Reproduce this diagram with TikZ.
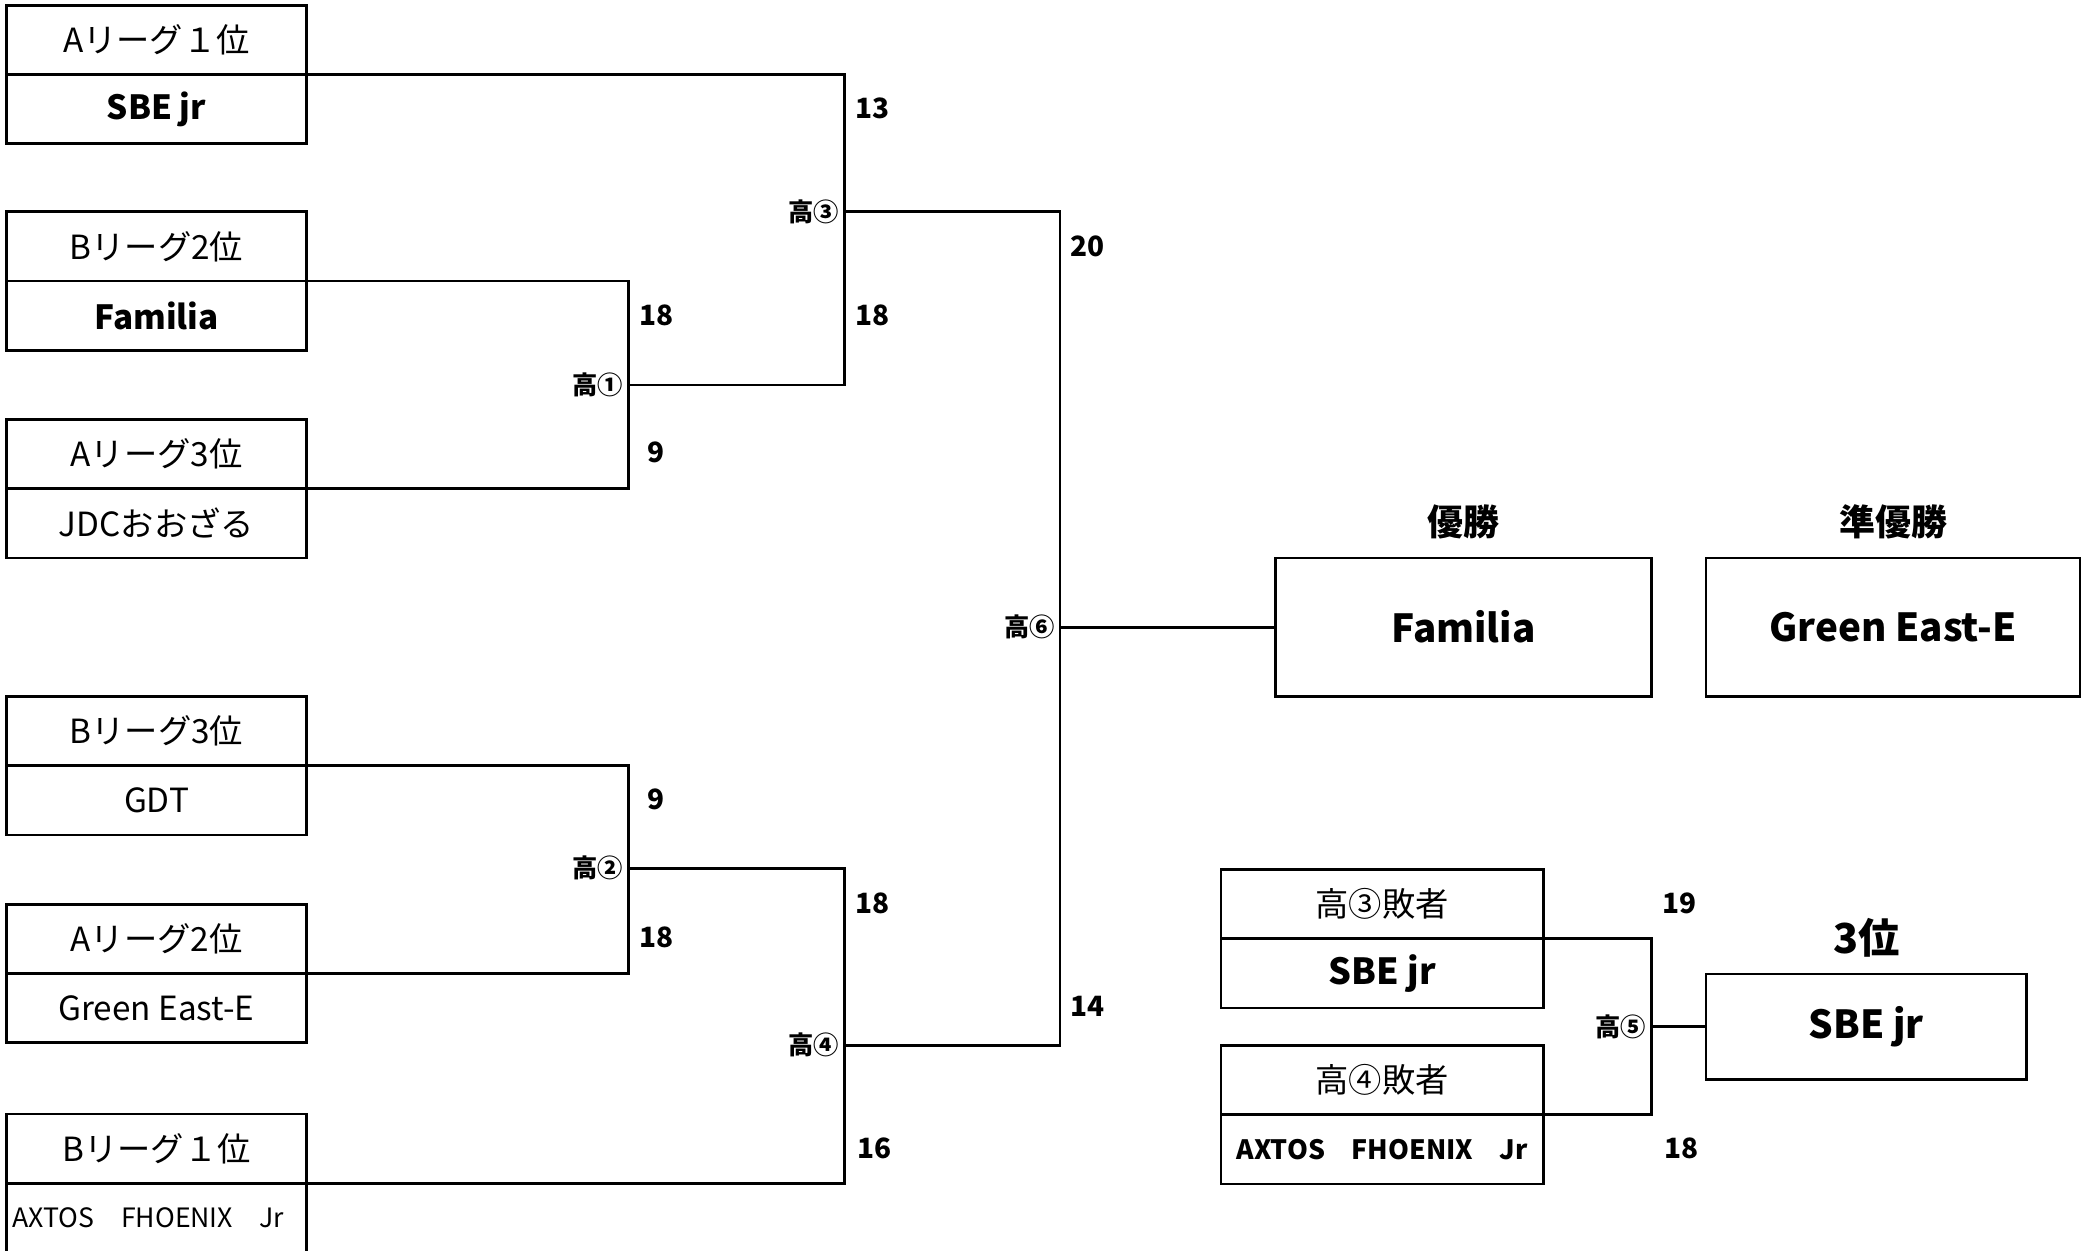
\documentclass[tikz,border=0pt]{standalone}
\usepackage{fontspec}
\setmainfont{Noto Sans CJK JP}
\begin{document}
\begin{tikzpicture}[x=0.5pt,y=-0.5pt,line width=1pt,
  cell/.style={draw,inner sep=0pt,outer sep=0pt,minimum width=112.5pt,minimum height=26pt,font=\fontsize{12.5pt}{15pt}\selectfont},
  rcell/.style={cell,minimum width=121pt},
  team/.style={font=\fontsize{12.5pt}{15pt}\selectfont\bfseries},
  rteam/.style={font=\fontsize{13.5pt}{16pt}\selectfont\bfseries},
  small/.style={font=\fontsize{10pt}{12pt}\selectfont},
  bigbox/.style={draw,inner sep=0pt,outer sep=0pt,font=\fontsize{14.5pt}{17pt}\selectfont\bfseries},
  head/.style={inner sep=0pt,font=\fontsize{13.5pt}{16pt}\selectfont\bfseries},
  ml/.style={inner sep=0pt,anchor=east,font=\fontsize{9.5pt}{11pt}\selectfont\bfseries},
  score/.style={inner sep=0pt,font=\fontsize{10.5pt}{12pt}\selectfont\bfseries}
]
\useasboundingbox (0,0) rectangle (1568,938.7);

% left bracket cells
\node[cell] (a1t) at (117.5,30) {Aリーグ１位};
\node[cell,team] (a1b) at (117.5,82) {SBE jr};
\node[cell] (b2t) at (117.5,185) {Bリーグ2位};
\node[cell,team] (b2b) at (117.5,237) {Familia};
\node[cell] (a3t) at (117.5,341) {Aリーグ3位};
\node[cell] (a3b) at (117.5,393) {JDCおおざる};
\node[cell] (b3t) at (117.5,549) {Bリーグ3位};
\node[cell] (b3b) at (117.5,601) {GDT};
\node[cell] (a2t) at (117.5,705) {Aリーグ2位};
\node[cell] (a2b) at (117.5,757) {Green East-E};
\node[cell] (b1t) at (117.5,862.5) {Bリーグ１位};
\node[cell,small,text width=108pt,align=left] (b1b) at (117.5,914.5) {AXTOS　FHOENIX　Jr};

% match points
\coordinate (m1) at (472,289);
\coordinate (m2) at (472,652);
\coordinate (m3) at (634,159);
\coordinate (m4) at (634,785);
\coordinate (m6) at (796,471);
\coordinate (m5) at (1240,771);

% connectors
\draw (b2b.north east) -| (m1) |- (a3b.north east);
\draw (b3b.north east) -| (m2) |- (a2b.north east);
\draw (a1b.north east) -| (m3) |- (m1);
\draw (m2) -| (m4) |- (b1b.north east);
\draw (m3) -| (m6) |- (m4);

% match labels
\node[ml] (l1) at ([xshift=-1.5pt]m1) {高①};
\node[ml] (l2) at ([xshift=-1.5pt]m2) {高②};
\node[ml] (l3) at ([xshift=-1.5pt]m3) {高③};
\node[ml] (l4) at ([xshift=-1.5pt]m4) {高④};
\node[ml] (l6) at ([xshift=-1.5pt]m6) {高⑥};
\node[ml] (l5) at ([xshift=-1.5pt]m5) {高⑤};

% scores
\node[score] (s1) at (655,81) {13};
\node[score] (s2) at (655,237) {18};
\node[score] (s3) at (493,237) {18};
\node[score] (s4) at (493,340) {9};
\node[score] (s5) at (817,185) {20};
\node[score] (s6) at (817,756) {14};
\node[score] (s7) at (493,600) {9};
\node[score] (s8) at (493,704) {18};
\node[score] (s9) at (655,678) {18};
\node[score] (s10) at (657,862) {16};
\node[score] (s11) at (1261,678) {19};
\node[score] (s12) at (1263,862) {18};

% finals
\node[head] (h1) at (1099,392) {優勝};
\node[head] (h2) at (1422,392) {準優勝};
\node[bigbox,minimum width=141pt,minimum height=52pt] (fin) at (1099,471) {Familia};
\node[bigbox,minimum width=140.5pt,minimum height=52pt] (ru) at (1421.5,471) {Green East-E};
\draw (m6) -- (fin.west);

% third place
\node[rcell] (t3t) at (1038,679) {高③敗者};
\node[rcell,rteam] (t3b) at (1038,731) {SBE jr};
\node[rcell] (t4t) at (1038,811) {高④敗者};
\node[rcell,small,font=\fontsize{10pt}{12pt}\selectfont\bfseries] (t4b) at (1038,863) {AXTOS　FHOENIX　Jr};
\draw (t3b.north east) -| (m5) |- (t4b.north east);
\node[inner sep=0pt,font=\fontsize{15.5pt}{18pt}\selectfont\bfseries] (h3) at (1402,704) {3位};
\node[bigbox,minimum width=120.5pt,minimum height=39.5pt] (third) at (1401.5,771) {SBE jr};
\draw (m5) -- (third.west);
\end{tikzpicture}
\end{document}
